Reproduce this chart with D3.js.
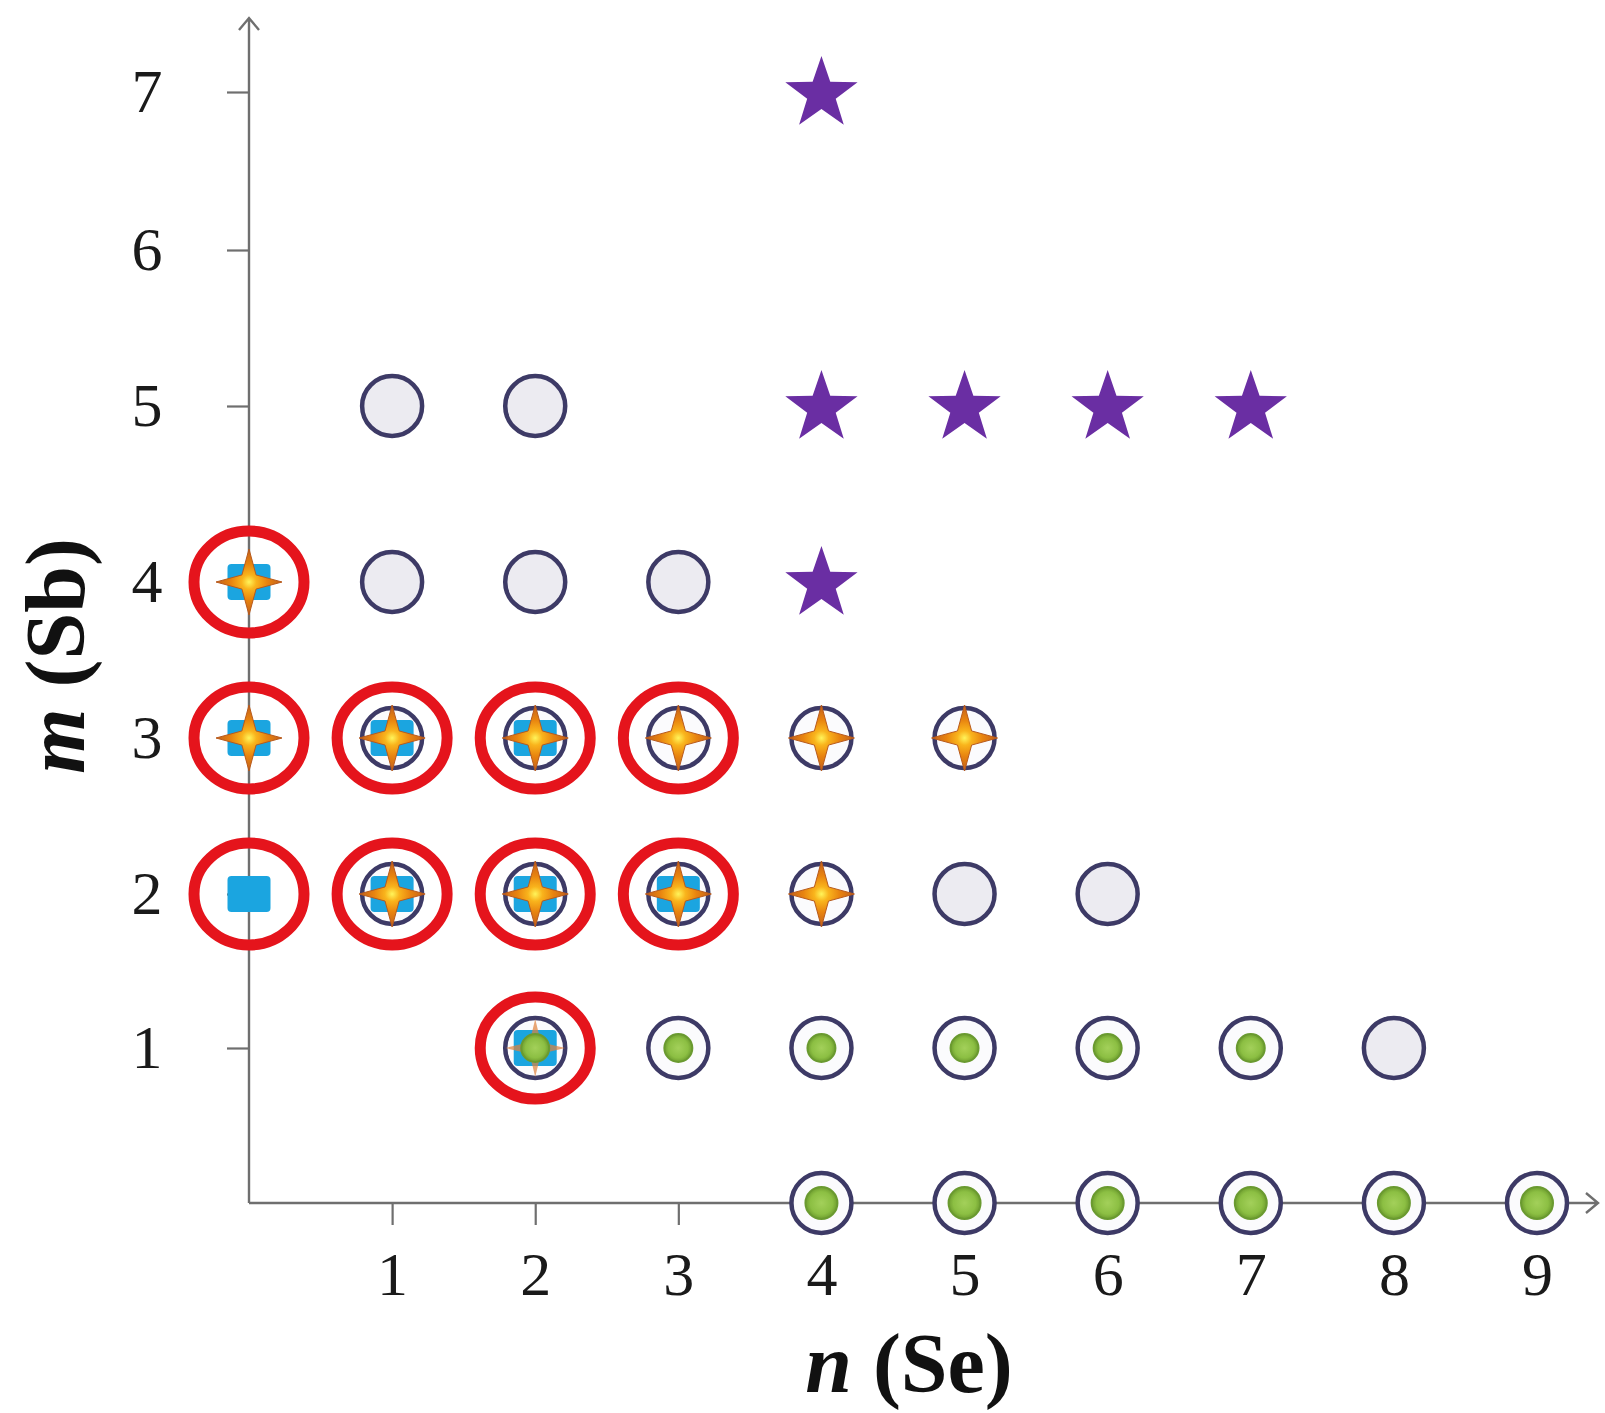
<!DOCTYPE html>
<html>
<head>
<meta charset="utf-8">
<script src="https://cdn.jsdelivr.net/npm/d3@7"></script>
<style>
  html, body { margin: 0; padding: 0; background: #ffffff; }
  svg { display: block; }
  .serif { font-family: "Liberation Serif", Tinos, "Times New Roman", Times, "Nimbus Roman", FreeSerif, serif; }
</style>
</head>
<body>
<svg id="chart" width="1605" height="1413"></svg>
<script>
// ---------- data ----------
const xTicks = [1, 2, 3, 4, 5, 6, 7, 8, 9];
const yTicks = [1, 2, 3, 4, 5, 6, 7];
const xTitleItalic = "n", xTitleRest = " (Se)";
const yTitleItalic = "m", yTitleRest = " (Sb)";

// [n, m] pairs
const greyCircles = [[1,5],[2,5],[1,4],[2,4],[3,4],[5,2],[6,2],[8,1]];
const ringCircles = [[1,3],[2,3],[3,3],[4,3],[5,3],[1,2],[2,2],[3,2],[4,2],
                     [2,1],[3,1],[4,1],[5,1],[6,1],[7,1],
                     [4,0],[5,0],[6,0],[7,0],[8,0],[9,0]];
const blueSquares = [[0,4],[0,3],[1,3],[2,3],[0,2],[1,2],[2,2],[3,2],[2,1]];
const orangeStars = [[0,4],[0,3],[1,3],[2,3],[3,3],[4,3],[5,3],[1,2],[2,2],[3,2],[4,2]];
const faintOrangeStars = [[2,1]];
const greenDotsRow1 = [[2,1],[3,1],[4,1],[5,1],[6,1],[7,1]];
const greenDotsRow0 = [[4,0],[5,0],[6,0],[7,0],[8,0],[9,0]];
const purpleStars = [[4,7],[4,5],[5,5],[6,5],[7,5],[4,4]];
const redRings = [[0,4],[0,3],[1,3],[2,3],[3,3],[0,2],[1,2],[2,2],[3,2],[2,1]];

// ---------- setup ----------
const svg = d3.select("#chart");
const x = d3.scaleLinear().domain([0, 9]).range([249, 1537]);
// the original's vertical axis is slightly non-uniform (hand-drawn); piecewise linear scale
const y = d3.scaleLinear()
  .domain([0, 1, 2, 3, 4, 5, 6, 7])
  .range([1203, 1048, 894, 738, 582, 406, 250, 92]);
const axisColor = "#6f6f6f";

const defs = svg.append("defs");
const og = defs.append("radialGradient").attr("id", "orangeGrad");
og.append("stop").attr("offset", "0%").attr("stop-color", "#fff45a");
og.append("stop").attr("offset", "22%").attr("stop-color", "#f9b41c");
og.append("stop").attr("offset", "55%").attr("stop-color", "#e8830f");
og.append("stop").attr("offset", "100%").attr("stop-color", "#c2601c");
const gg = defs.append("radialGradient").attr("id", "greenGrad");
gg.append("stop").attr("offset", "0%").attr("stop-color", "#a3d05a");
gg.append("stop").attr("offset", "70%").attr("stop-color", "#8cbf43");
gg.append("stop").attr("offset", "100%").attr("stop-color", "#6e9d2f");

// ---------- axes ----------
const xAxis = d3.axisBottom(x).tickValues(xTicks).tickSizeInner(22).tickSizeOuter(0).tickFormat(d3.format("d"));
const gx = svg.append("g").attr("transform", `translate(0,${y(0)})`).call(xAxis);
gx.select(".domain").remove();
gx.attr("font-family", null).attr("font-size", null);
gx.selectAll(".tick line").attr("stroke", axisColor).attr("stroke-width", 2.2);
gx.selectAll(".tick text")
  .attr("class", "serif")
  .attr("y", 92).attr("dy", 0)
  .attr("font-size", 62).attr("fill", "#1a1a1a");

const yAxis = d3.axisLeft(y).tickValues(yTicks).tickSizeInner(22).tickSizeOuter(0).tickFormat(d3.format("d"));
const gy = svg.append("g").attr("transform", `translate(${x(0)},0)`).call(yAxis);
gy.select(".domain").remove();
gy.attr("font-family", null).attr("font-size", null);
gy.selectAll(".tick line").attr("stroke", axisColor).attr("stroke-width", 2.2);
gy.selectAll(".tick text")
  .attr("class", "serif")
  .attr("x", -102).attr("text-anchor", "middle")
  .attr("font-size", 62).attr("fill", "#1a1a1a");

// axis lines with open arrowheads
const x0 = x(0), y0 = y(0);
const xEnd = 1598, yEnd = 18;
svg.append("path")
  .attr("d", `M${x0},${y0} H${xEnd} M${xEnd - 12},${y0 - 10} L${xEnd},${y0} L${xEnd - 12},${y0 + 10}`)
  .attr("fill", "none").attr("stroke", axisColor).attr("stroke-width", 2.4);
svg.append("path")
  .attr("d", `M${x0},${y0} V${yEnd} M${x0 - 10},${yEnd + 12} L${x0},${yEnd} L${x0 + 10},${yEnd + 12}`)
  .attr("fill", "none").attr("stroke", axisColor).attr("stroke-width", 2.4);

// axis titles
const xt = svg.append("text").attr("class", "serif")
  .attr("x", 909).attr("y", 1392).attr("text-anchor", "middle")
  .attr("font-size", 84).attr("font-weight", "bold").attr("fill", "#111");
xt.append("tspan").attr("font-style", "italic").text(xTitleItalic);
xt.append("tspan").text(xTitleRest);

const yt = svg.append("text").attr("class", "serif")
  .attr("transform", "translate(84,656) rotate(-90)").attr("text-anchor", "middle")
  .attr("font-size", 84).attr("font-weight", "bold").attr("fill", "#111");
yt.append("tspan").attr("font-style", "italic").text(yTitleItalic);
yt.append("tspan").text(yTitleRest);

// ---------- marks ----------
const tr = d => `translate(${x(d[0])},${y(d[1])})`;

// red rings
svg.append("g").selectAll("ellipse").data(redRings).join("ellipse")
  .attr("cx", d => x(d[0])).attr("cy", d => y(d[1]))
  .attr("rx", 55).attr("ry", 51)
  .attr("fill", "none").attr("stroke", "#e5141c").attr("stroke-width", 11);

// circles
svg.append("g").selectAll("circle").data(greyCircles).join("circle")
  .attr("cx", d => x(d[0])).attr("cy", d => y(d[1])).attr("r", 30)
  .attr("fill", "#ecebf1").attr("stroke", "#3d3a66").attr("stroke-width", 4.5);
svg.append("g").selectAll("circle").data(ringCircles).join("circle")
  .attr("cx", d => x(d[0])).attr("cy", d => y(d[1])).attr("r", 30)
  .attr("fill", "#fbfbfd").attr("stroke", "#3d3a66").attr("stroke-width", 4.5);

// blue squares
svg.append("g").selectAll("rect").data(blueSquares).join("rect")
  .attr("x", d => x(d[0]) - 21.5).attr("y", d => y(d[1]) - 18)
  .attr("width", 43).attr("height", 36).attr("rx", 4)
  .attr("fill", "#1ba5e0");

// orange 4-point sparkle
function sparkle(rx, ry, ri) {
  const a = ri * Math.SQRT1_2;
  return `M${rx},0 L${a},${a} L0,${ry} L${-a},${a} L${-rx},0 L${-a},${-a} L0,${-ry} L${a},${-a} Z`;
}
svg.append("g").selectAll("path").data(orangeStars).join("path")
  .attr("transform", tr).attr("d", sparkle(33, 33, 10))
  .attr("fill", "url(#orangeGrad)").attr("stroke", "#b85a1c").attr("stroke-width", 1);
svg.append("g").selectAll("path").data(faintOrangeStars).join("path")
  .attr("transform", tr).attr("d", sparkle(30, 29, 8))
  .attr("fill", "#e0803a").attr("opacity", 0.7);

// green dots
svg.append("g").selectAll("circle").data(greenDotsRow1).join("circle")
  .attr("cx", d => x(d[0])).attr("cy", d => y(d[1])).attr("r", 14)
  .attr("fill", "url(#greenGrad)").attr("stroke", "#6a9a30").attr("stroke-width", 2);
svg.append("g").selectAll("circle").data(greenDotsRow0).join("circle")
  .attr("cx", d => x(d[0])).attr("cy", d => y(d[1])).attr("r", 16)
  .attr("fill", "url(#greenGrad)").attr("stroke", "#6a9a30").attr("stroke-width", 2);

// purple 5-point stars
function star5(R, r) {
  const pts = [];
  for (let i = 0; i < 10; i++) {
    const ang = -Math.PI / 2 + i * Math.PI / 5;
    const rad = i % 2 === 0 ? R : r;
    pts.push([rad * Math.cos(ang), rad * Math.sin(ang)]);
  }
  return "M" + pts.map(p => p.join(",")).join("L") + "Z";
}
svg.append("g").selectAll("path").data(purpleStars).join("path")
  .attr("transform", d => `translate(${x(d[0])},${y(d[1]) + 2})`)
  .attr("d", star5(38, 15))
  .attr("fill", "#6a2ea3");
</script>
</body>
</html>
